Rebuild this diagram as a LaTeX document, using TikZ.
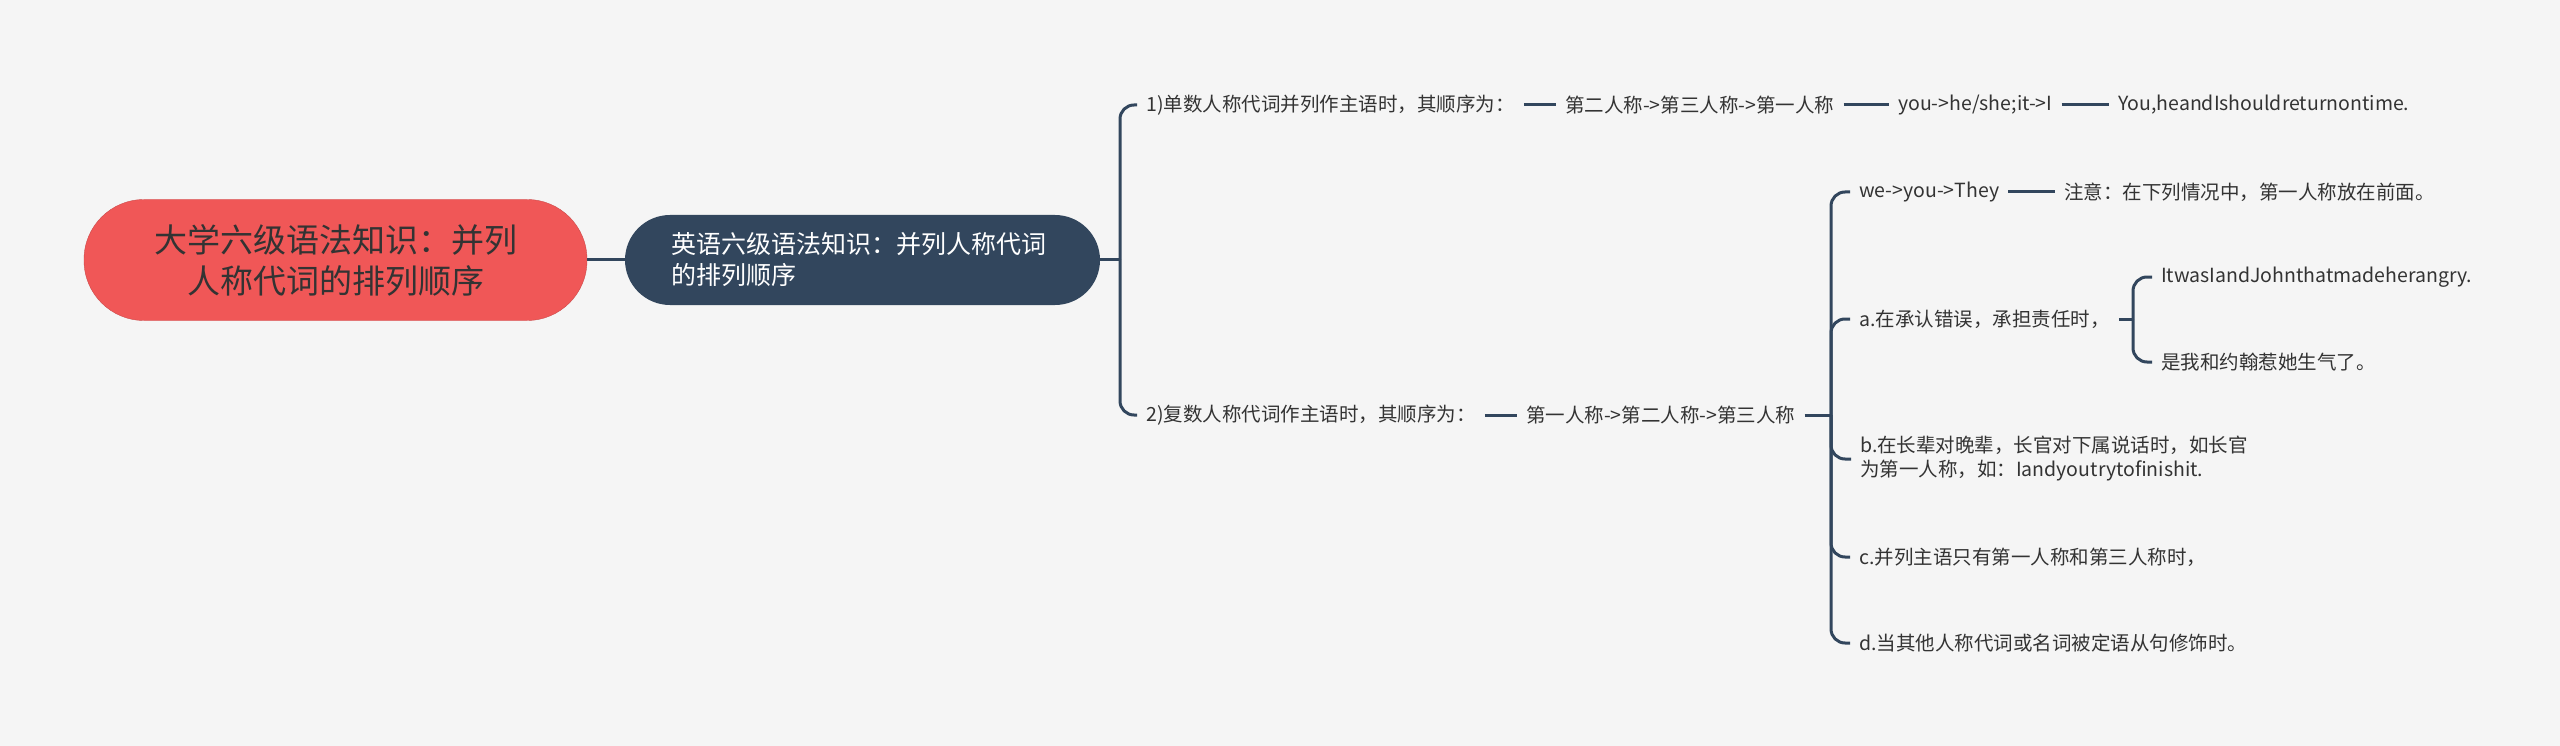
\documentclass[tikz,border=0pt]{standalone}
\usepackage{fontspec}
\setmainfont{Noto Sans CJK SC}

\definecolor{bgc}{RGB}{245,245,245}
\definecolor{rootred}{RGB}{240,87,87}
\definecolor{navy}{RGB}{50,70,93}
\definecolor{txt}{RGB}{51,51,51}

\begin{document}
\begin{tikzpicture}[x=1pt,y=1pt,yscale=-1,xscale=1,
  leaf/.style={anchor=west,inner xsep=9pt,inner ysep=2pt,font=\fontsize{19.5}{24}\selectfont,text=txt,align=left},
  link/.style={draw=navy,line width=3pt},
  brace/.style={link,rounded corners=14pt}]
%set diagram size 2560 x 746
\fill[bgc] (0,0) rectangle (2560,746);

% Main Topic
\node[fill=rootred,draw=rootred!85!black,rounded corners=60pt,minimum width=503pt,minimum height=121pt,align=center,text=txt,font=\fontsize{33}{41}\selectfont] (root) at (335.5,260) {\raisebox{-2pt}{大学六级语法知识：并列}\\\raisebox{-2pt}{人称代词的排列顺序}};
% Sub Topic
\node[fill=navy,rounded corners=45pt,minimum width=475pt,minimum height=90pt,text width=383pt,inner xsep=46pt,align=left,text=white,font=\fontsize{25}{31}\selectfont] (sub) at (862.5,260) {英语六级语法知识：并列人称代词\\的排列顺序};

% Text Node
\node[leaf] (s1) at (1137,105) {1)单数人称代词并列作主语时，其顺序为：};
\node[leaf] (s1a) at (1556,105) {第二人称->第三人称->第一人称};
\node[leaf] (s1b) at (1889,105) {you->he/she;it->I};
\node[leaf] (s1c) at (2109,105) {You,heandIshouldreturnontime.};
% Text Node
\node[leaf] (s2) at (1137,415) {2)复数人称代词作主语时，其顺序为：};
\node[leaf] (s2a) at (1517,415) {第一人称->第二人称->第三人称};
% Text Node
\node[leaf] (t1) at (1850,192) {we->you->They};
\node[leaf] (t1a) at (2055,192) {注意：在下列情况中，第一人称放在前面。};
\node[leaf] (ta) at (1850,319) {a.在承认错误，承担责任时，};
\node[leaf] (ta1) at (2152,277) {ItwasIandJohnthatmadeherangry.};
\node[leaf] (ta2) at (2152,362) {是我和约翰惹她生气了。};
\node[leaf] (tb) at (1851,459) {b.在长辈对晚辈，长官对下属说话时，如长官\\为第一人称，如：Iandyoutrytofinishit.};
\node[leaf] (tc) at (1850,557) {c.并列主语只有第一人称和第三人称时，};
\node[leaf] (td) at (1850,643) {d.当其他人称代词或名词被定语从句修饰时。};

\coordinate (j1) at (1120,260);
\coordinate (j2) at (1831,415);
\coordinate (j3) at (2133,319);

%Straight Lines
\draw[link] (root.east) -- (sub.west);
\draw[link] (sub.east) -- (j1);
\draw[link] (s1.east) -- (s1a.west);
\draw[link] (s1a.east) -- (s1b.west);
\draw[link] (s1b.east) -- (s1c.west);
\draw[link] (s2.east) -- (s2a.west);
\draw[link] (s2a.east) -- (j2);
\draw[link] (t1.east) -- (t1a.west);
\draw[link] (ta.east) -- (j3);
%Brackets
\foreach \n in {s1,s2} \draw[brace] (j1) |- (\n.west);
\foreach \n in {t1,ta,tb,tc,td} \draw[brace] (j2) |- (\n.west);
\foreach \n in {ta1,ta2} \draw[brace] (j3) |- (\n.west);

\end{tikzpicture}
\end{document}
